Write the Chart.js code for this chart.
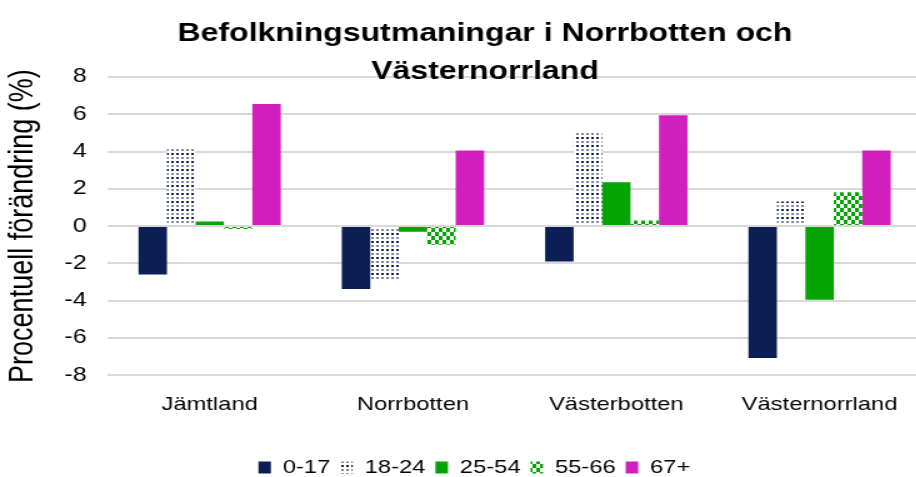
<!DOCTYPE html>
<html>
<head>
<meta charset="utf-8">
<script src="https://cdn.jsdelivr.net/npm/chart.js@4/dist/chart.umd.min.js"></script>
<style>
  html, body { margin: 0; padding: 0; background: #fff; overflow: hidden; }
  /* the reference is stretched sideways, so draw narrow and widen it */
  #wrap { width: 737px; height: 477px; transform: scaleX(1.25); transform-origin: 0 0; }
</style>
</head>
<body>
<div id="wrap"><canvas id="chart" width="737" height="477"></canvas></div>
<script>
var regions = ['Jämtland', 'Norrbotten', 'Västerbotten', 'Västernorrland'];
var ageGroups = ['0-17', '18-24', '25-54', '55-66', '67+'];

var age0_17  = [-2.6, -3.37, -1.9, -7.08];
var age18_24 = [4.15, -2.88, 5.07, 1.32];
var age25_54 = [0.25, -0.3, 2.35, -3.95];
var age55_66 = [-0.15, -1.0, 0.3, 1.82];
var age67    = [6.55, 4.05, 5.95, 4.05];

var yTicks = { min: -8, max: 8, step: 2 };

var navy = '#0c1f55';
var green = '#03a503';
var magenta = '#d11fbe';

function dotPattern() {
  var c = document.createElement('canvas');
  c.width = 4; c.height = 8;
  var g = c.getContext('2d');
  g.fillStyle = '#fff';
  g.fillRect(0, 0, 4, 8);
  g.fillStyle = navy;
  g.fillRect(1, 1, 2, 2);
  g.fillStyle = 'rgba(12,31,85,0.55)';
  g.fillRect(1, 5, 2, 2);
  return g.createPattern(c, 'repeat');
}

function checkPattern() {
  var c = document.createElement('canvas');
  c.width = 6; c.height = 8;
  var g = c.getContext('2d');
  g.fillStyle = '#fff';
  g.fillRect(0, 0, 6, 8);
  g.fillStyle = green;
  g.fillRect(0, 0, 3, 4);
  g.fillRect(3, 4, 3, 4);
  return g.createPattern(c, 'repeat');
}

// move title and legend to where the reference has them
var nudge = {
  id: 'nudge',
  afterLayout: function(chart) {
    var t = chart.titleBlock;
    t.left += 19.5; t.right += 19.5;
    var l = chart.legend;
    l.left += 11; l.right += 11;
    l.top += 16; l.bottom += 16;
  }
};

var font = 'Liberation Sans, Arial, sans-serif';

var myChart = new Chart(document.getElementById('chart'), {
  type: 'bar',
  data: {
    labels: regions,
    datasets: [
      { label: ageGroups[0], data: age0_17, backgroundColor: navy },
      { label: ageGroups[1], data: age18_24, backgroundColor: dotPattern() },
      { label: ageGroups[2], data: age25_54, backgroundColor: green },
      { label: ageGroups[3], data: age55_66, backgroundColor: checkPattern() },
      { label: ageGroups[4], data: age67, backgroundColor: magenta }
    ]
  },
  options: {
    responsive: false,
    animation: false,
    layout: { padding: { left: 0, right: 0, top: 0, bottom: 6 } },
    datasets: { bar: { categoryPercentage: 0.7, barPercentage: 1.0 } },
    plugins: {
      title: {
        display: true,
        text: ['Befolkningsutmaningar i Norrbotten och', 'Västernorrland'],
        color: '#000',
        font: { family: font, size: 25.6, weight: 'bold', lineHeight: 1.48 },
        padding: { top: 15, bottom: -13.8 }
      },
      legend: {
        position: 'bottom',
        labels: {
          color: '#000',
          font: { family: font, size: 19 },
          boxWidth: 10,
          boxHeight: 12,
          padding: 8
        }
      },
      tooltip: { enabled: false }
    },
    scales: {
      x: {
        grid: { display: false, drawTicks: false },
        border: { display: false },
        ticks: { color: '#000', font: { family: font, size: 19 }, padding: 18, maxRotation: 0 }
      },
      y: {
        min: yTicks.min,
        max: yTicks.max,
        afterFit: function(s) { s.width = 86.4; },
        grid: { color: '#d9d9d9', lineWidth: 2, drawTicks: true, tickLength: 14, tickColor: 'rgba(0,0,0,0)' },
        border: { display: false },
        ticks: { stepSize: yTicks.step, color: '#000', font: { family: font, size: 20 }, padding: 3 },
        title: {
          display: true,
          text: 'Procentuell förändring (%)',
          color: '#000',
          font: { family: font, size: 27 },
          padding: { top: 2, bottom: 0 }
        }
      }
    }
  },
  plugins: [nudge]
});
</script>
</body>
</html>
